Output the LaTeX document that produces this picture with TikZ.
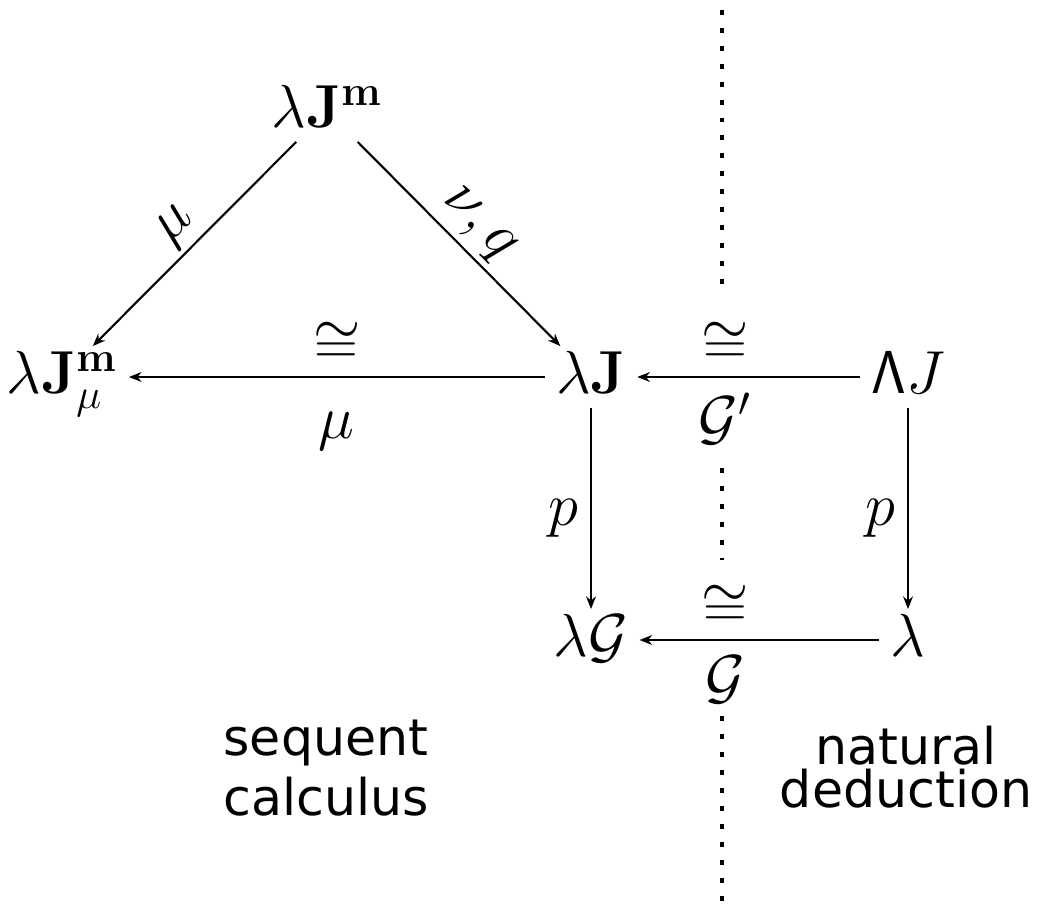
\documentclass[tikz,border=0pt]{standalone}
\usepackage[no-math]{fontspec}
\setmainfont{DejaVu Sans}
\setsansfont{DejaVu Sans}
\usetikzlibrary{positioning, arrows.meta}
\tikzset{
    term/.style={font=\fontsize{16.8}{20}\selectfont, text height=11.7pt, text depth=2.5pt, inner xsep=3pt, inner ysep=1.5pt},
    arrow/.style={line width=0.6pt, -{Stealth[length=3.6pt, width=2.8pt]}},
    lbl/.style={font=\fontsize{16.8}{20}\selectfont},
    divider/.style={line width=1.4pt, dash pattern=on 1.4pt off 3.7pt},
    region/.style={font=\fontsize{14.4}{17}\selectfont, align=center}
}

\begin{document}
\begin{tikzpicture}
        \useasboundingbox (0,0) rectangle (10.43,-9.04);

        \node (lJm) [term] at (3.27,-1.11) {$\lambda\mathbf{J}^{\mathbf{m}}$};
        \node (lJmu) [term] at (0.62,-3.77) {$\lambda\mathbf{J}^{\mathbf{m}}_{\mu}$};
        \node (lJ) [term] at (5.91,-3.77) {$\lambda\mathbf{J}$};
        \node (LJ) [term] at (9.08,-3.77) {$\mathsf{\Lambda}J$};
        \node (lG) [term] at (5.91,-6.40) {$\lambda\mathcal{G}$};
        \node (lam) [term] at (9.08,-6.40) {$\lambda$};

        \draw [arrow] (lJm) -- node[lbl, above, sloped, inner sep=1.4pt] (mu1) {$\mu$} (lJmu);
        \draw [arrow] (lJm) -- node[lbl, above, sloped, inner sep=1.6pt] (nuq) {$\nu, q$} (lJ);
        \draw [arrow] (lJ) -- node[lbl, above] (iso1) {$\cong$} node[lbl, below=6.4pt] (mu2) {$\mu$} (lJmu);
        \draw [arrow] (LJ) -- node[lbl, above, pos=0.605] (iso2) {$\cong$} node[lbl, below=1pt, pos=0.605] (gp) {$\mathcal{G}'$} (lJ);
        \draw [arrow] (lJ) -- node[lbl, left, pos=0.55] (p1) {$p$} (lG);
        \draw [arrow] (LJ) -- node[lbl, left, pos=0.55] (p2) {$p$} (lam);
        \draw [arrow] (lam) -- node[lbl, above, pos=0.644] (iso3) {$\cong$} node[lbl, below=1pt, pos=0.644] (g) {$\mathcal{G}$} (lG);

        % dotted divider between the two calculi
        \coordinate (divtop) at (7.22,-0.1);
        \coordinate (divbot) at (7.22,-9.02);
        \draw [divider, shorten >=5pt] (divtop) -- (divtop |- iso2.north);
        \draw [divider, shorten <=3pt, shorten >=3.5pt] (divtop |- gp.south) -- (divtop |- iso3.north);
        \draw [divider] (divtop |- g.south) -- (divbot);

        \node (seq) [region] at (3.26,-7.68) {sequent\\calculus};
        \node (nat) [region, font=\fontsize{14.4}{12.2}\selectfont] at (9.06,-7.67) {natural\\deduction};
\end{tikzpicture}
\end{document}
